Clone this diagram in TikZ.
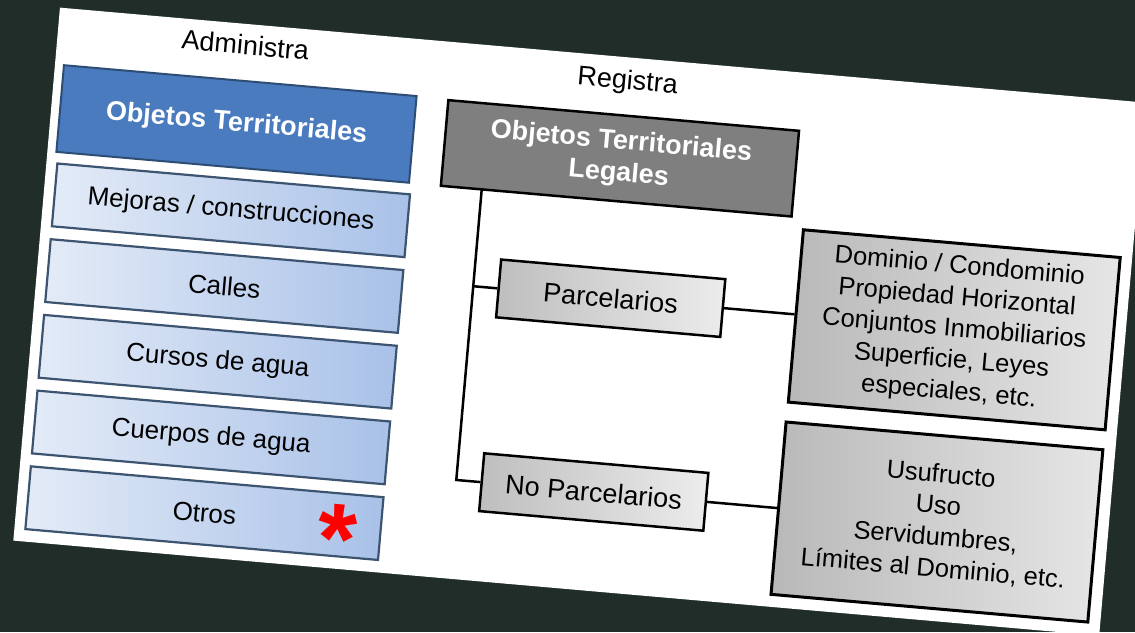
\documentclass[tikz,border=0pt]{standalone}
\usepackage{fontspec}
\setmainfont{Liberation Sans}
\usetikzlibrary{positioning}

\definecolor{bgdark}{HTML}{202D29}
\definecolor{hdrblue}{HTML}{4A7BBF}
\definecolor{hdrblueline}{HTML}{2E4D75}
\definecolor{itemlight}{HTML}{E3EBF7}
\definecolor{itemdark}{HTML}{A9C1E8}
\definecolor{itemline}{HTML}{3D5470}
\definecolor{hdrgray}{HTML}{7F7F7F}
\definecolor{kindleft}{HTML}{BEBEBE}
\definecolor{kindright}{HTML}{ECECEC}
\definecolor{detleft}{HTML}{B8B8B8}
\definecolor{detright}{HTML}{E6E6E6}

\tikzset{
  coltitle/.style={font=\fontsize{27}{32}\selectfont, inner sep=0pt},
  headblue/.style={draw=hdrblueline, line width=2pt, fill=hdrblue, text=white,
    minimum width=354pt, minimum height=87pt, inner sep=0pt,
    font=\fontsize{27}{32}\selectfont\bfseries},
  admitem/.style={draw=itemline, line width=2.2pt, left color=itemlight, right color=itemdark,
    minimum width=354pt, minimum height=63pt, inner sep=0pt,
    font=\fontsize{26}{31}\selectfont},
  headgray/.style={draw=black, line width=2.5pt, fill=hdrgray, text=white,
    minimum width=352pt, minimum height=86pt, inner sep=0pt, align=center,
    font=\fontsize{27}{32}\selectfont\bfseries},
  kindbox/.style={draw=black, line width=2.5pt, left color=kindleft, right color=kindright,
    minimum width=225pt, minimum height=58pt, inner sep=0pt,
    font=\fontsize{27}{32}\selectfont},
  detbox/.style={draw=black, line width=3pt, left color=detleft, right color=detright,
    minimum width=318pt, minimum height=173pt, inner sep=0pt, align=center,
    font=\fontsize{25.5}{31.5}\selectfont},
  conn/.style={line width=2.5pt},
  redmark/.style={text=red, inner sep=0pt, font=\fontsize{100}{100}\selectfont\bfseries}
}

\begin{document}
\begin{tikzpicture}[x=1pt,y=-1pt]
  \useasboundingbox (0,0) rectangle (1135,632);
  \fill[bgdark] (0,0) rectangle (1135,632);

  \begin{scope}[shift={(567,316)}, rotate=-5, transform shape]
    % sheet
    \fill[white] (-532,-263) rectangle (558,272);

    % Administra
    \node[coltitle] (adm) at (-344,-242) {Administra};
    \node[headblue] (objter) at (-346,-162.5) {Objetos Territoriales};
    \node[admitem] (mejoras) at (-344,-76) {Mejoras / construcciones};
    \node[admitem] (calles) at (-344,0) {Calles};
    \node[admitem] (cursos) at (-344,76) {Cursos de agua};
    \node[admitem] (cuerpos) at (-344,152) {Cuerpos de agua};
    \node[admitem] (otros) at (-344,228) {Otros};
    \node[redmark, anchor=base] (mark) at (-210,277) {*};

    % Registra
    \node[coltitle] (reg) at (40,-238) {Registra};
    \node[headgray] (legal) at (39,-161.7) {Objetos Territoriales\\Legales};
    \node[kindbox] (parc) at (42,-21.5) {Parcelarios};
    \node[kindbox] (noparc) at (42,173) {No Parcelarios};

    % Detalle
    \node[detbox] (detparc) at (387,-20) {Dominio / Condominio\\Propiedad Horizontal\\Conjuntos Inmobiliarios\\Superficie, Leyes\\especiales, etc.};
    \node[detbox] (detnoparc) at (386.5,173) {Usufructo\\Uso\\Servidumbres,\\Límites al Dominio, etc.};

    % Conexiones
    \coordinate (trunktop) at (-96,-118.7);
    \coordinate (trunkmid) at (-96,-21.5);
    \coordinate (trunkbot) at (-96,173);
    \draw[conn] (trunktop) -- (trunkbot) -- (noparc.west);
    \draw[conn] (trunkmid) -- (parc.west);
    \draw[conn] (parc.east) -- (detparc.west |- parc.east);
    \draw[conn] (noparc.east) -- (detnoparc.west);
  \end{scope}
\end{tikzpicture}
\end{document}
